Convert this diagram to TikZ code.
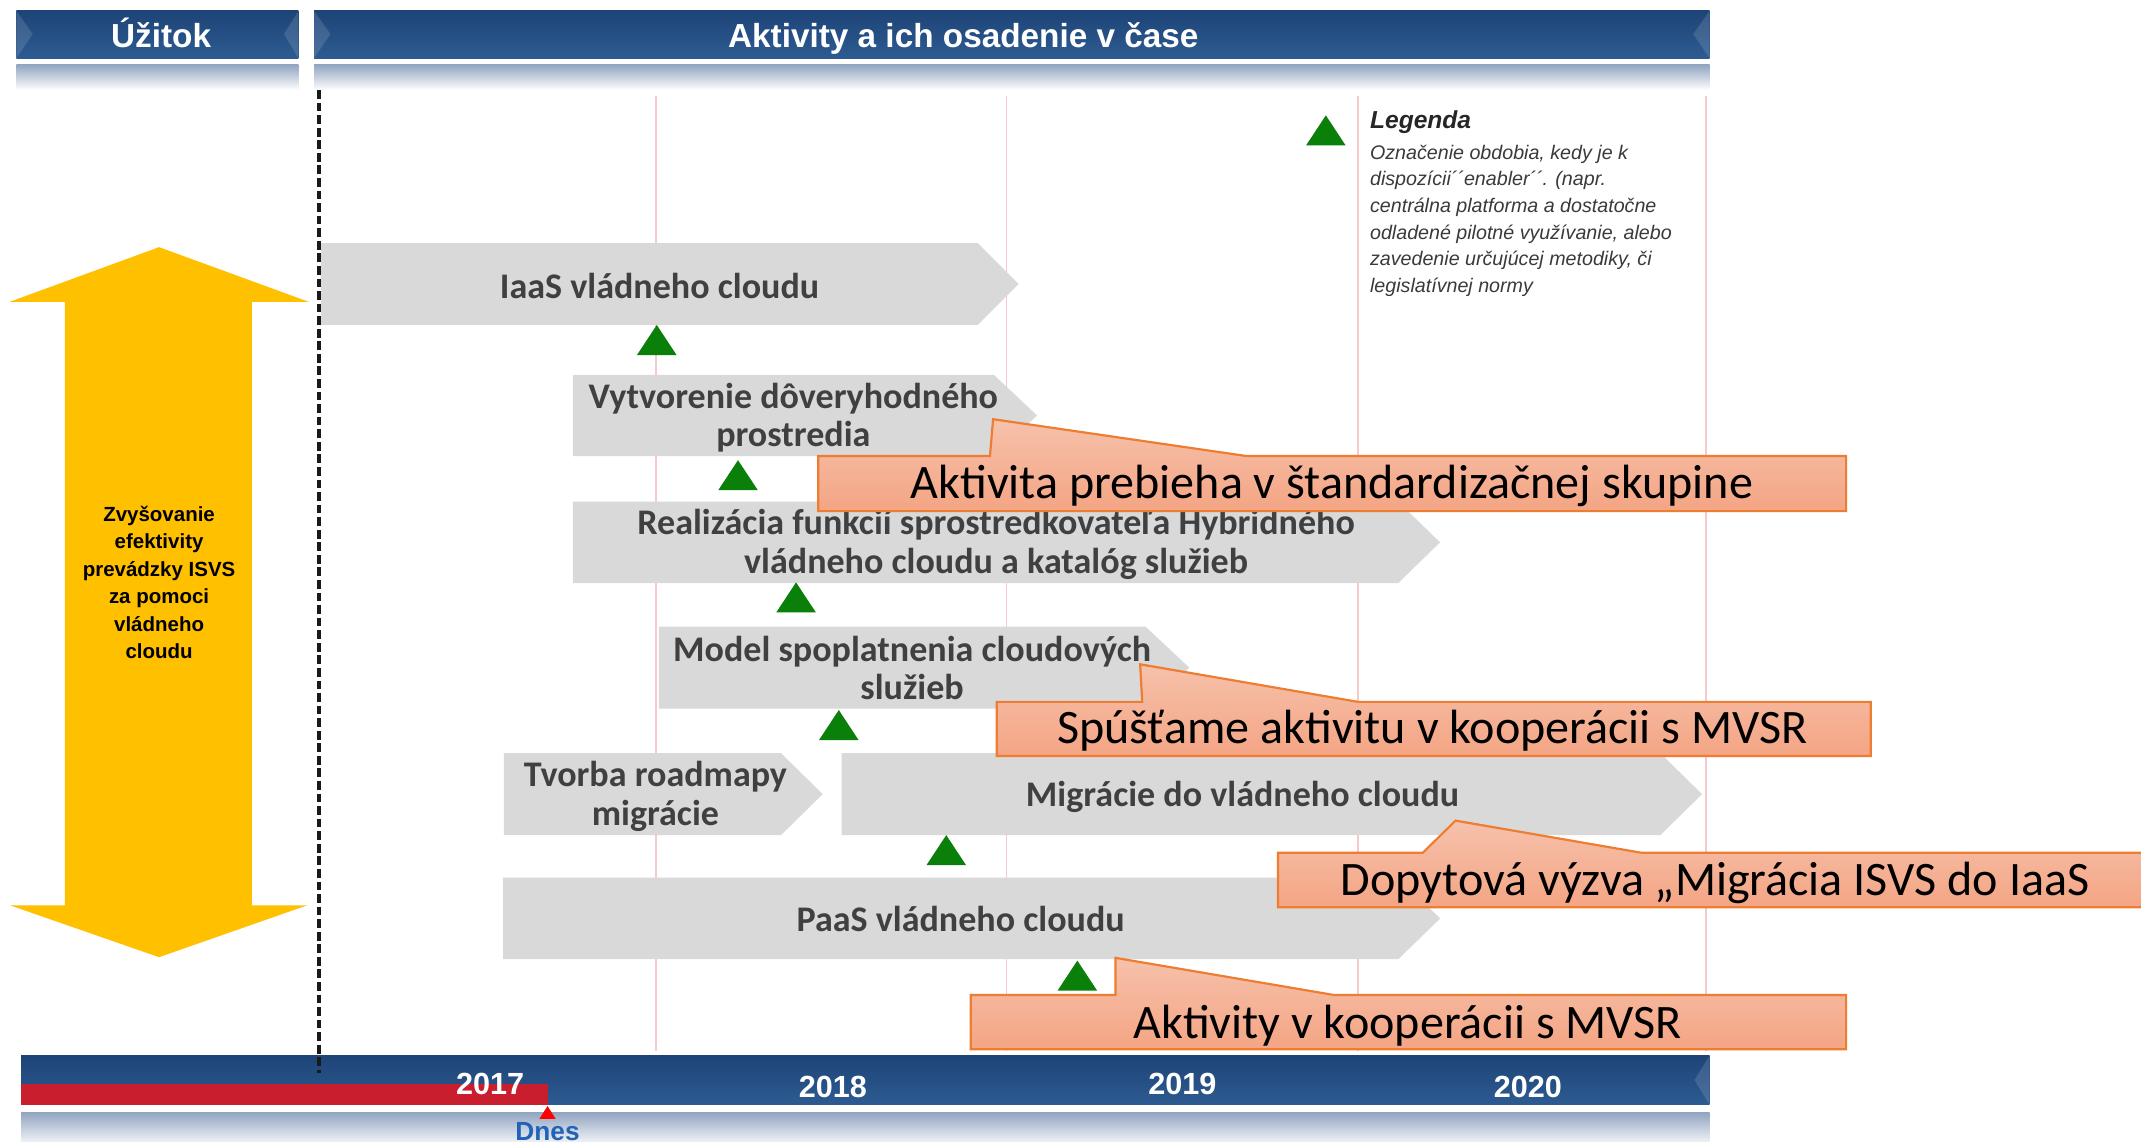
\documentclass[tikz,border=0pt]{standalone}
\usepackage{fontspec}
\setmainfont{Liberation Sans}
\newfontfamily\calibri{Carlito}
\definecolor{hdrtop}{HTML}{1E4477}
\definecolor{hdrbot}{HTML}{2D5B91}
\definecolor{bandtop}{HTML}{93A6C2}
\definecolor{boxgray}{HTML}{D9D9D9}
\definecolor{boxtext}{HTML}{404040}
\definecolor{trigreen}{HTML}{0A7F0A}
\definecolor{arrowyellow}{HTML}{FFC000}
\definecolor{pinkline}{HTML}{F6CACA}
\definecolor{calltop}{HTML}{F6C1AB}
\definecolor{callbot}{HTML}{F4A584}
\definecolor{callborder}{HTML}{ED7D31}
\definecolor{redbar}{HTML}{C81E2D}
\definecolor{dnesblue}{HTML}{2263B8}
\definecolor{legtext}{HTML}{3A3A3A}
\newcommand\chevronbox[5]{\fill[boxgray] (#1,#4) -- (#2,#4) -- (#3,{(#4+#5)/2}) -- (#2,#5) -- (#1,#5) -- cycle;}
\newcommand\greentri[2]{\fill[trigreen] (#1-14.5,#2+22) -- (#1,#2) -- (#1+14.5,#2+22) -- cycle;}
\newcommand\calloutshape[8]{\path[callshape] (#1,#3) -- (#5,#3) -- (#6,#7) -- (#8,#3) -- (#2,#3) -- (#2,#4) -- (#1,#4) -- cycle;}
\begin{document}
\begin{tikzpicture}[x=0.5pt,y=-0.5pt,
  hdrtext/.style={text=white, font=\bfseries\fontsize{12.2}{14}\selectfont, inner sep=0pt, anchor=base},
  yeartext/.style={text=white, font=\bfseries\fontsize{11.2}{13}\selectfont, inner sep=0pt, anchor=base},
  boxlabel/.style={text=boxtext, font=\calibri\bfseries\fontsize{13.2}{14}\selectfont, inner sep=0pt, anchor=base},
  calltext/.style={text=black, font=\calibri\fontsize{17.6}{20}\selectfont, inner sep=0pt, anchor=base},
  callshape/.style={draw=callborder, line width=0.8pt, top color=calltop, bottom color=callbot},
  bevel/.style={fill=white, fill opacity=0.13},
  band/.style={top color=bandtop, bottom color=white},
  bluebar/.style={top color=hdrtop, bottom color=hdrbot},
  gridline/.style={draw=pinkline, line width=0.6pt}]
\useasboundingbox (0,0) rectangle (1568,836);
\fill[white] (0,0) rectangle (1568,836);

% year grid lines
\draw[gridline] (480.3,70) -- (480.3,770);
\draw[gridline] (737,70) -- (737,770);
\draw[gridline] (994.6,70) -- (994.6,770);
\draw[gridline] (1249.5,70) -- (1249.5,770);

% header bars
\shade[bluebar] (12,8) rectangle (218.5,42.5);
\shade[bluebar] (230,8) rectangle (1252,42.5);
\fill[bevel] (12,8) -- (24,25) -- (12,42.5) -- cycle;
\fill[bevel] (218.5,8) -- (208,25) -- (218.5,42.5) -- cycle;
\fill[bevel] (230,8) -- (242,25) -- (230,42.5) -- cycle;
\fill[bevel] (1252,8) -- (1240,25) -- (1252,42.5) -- cycle;
\shade[band] (12,47.5) rectangle (218.5,66);
\shade[band] (230,47.5) rectangle (1252,66);
\node[hdrtext] (uzitok) at (118,35) {Úžitok};
\node[hdrtext] (aktivity) at (705.5,35) {Aktivity a ich osadenie v čase};

% yellow double arrow
\fill[arrowyellow] (116.5,181) -- (226,221) -- (184.5,221) -- (184.5,663) -- (225,663) -- (116.5,701)
  -- (7.3,663) -- (47.6,663) -- (47.6,221) -- (7.3,221) -- cycle;
\node[inner sep=0pt, anchor=base, font=\bfseries\fontsize{7.5}{10.1}\selectfont] (benefit) at (116.5,381.6)
  {\begin{tabular}[t]{@{}c@{}}Zvyšovanie\\efektivity\\prevádzky ISVS\\za pomoci\\vládneho\\cloudu\end{tabular}};

% legend
\greentri{971}{84.5}
\node[inner sep=0pt, anchor=base west, text=black!85, font=\bfseries\itshape\fontsize{9}{11}\selectfont] (legtitle) at (1003,94) {Legenda};
\node[inner sep=0pt, anchor=base west, text=legtext, font=\itshape\fontsize{7.2}{9.75}\selectfont] (legbody) at (1003,116.7)
  {\begin{tabular}[t]{@{}l@{}}Označenie obdobia, kedy je k\\dispozícii´´enabler´´. (napr.\\centrálna platforma a dostatočne\\odladené pilotné využívanie, alebo\\zavedenie určujúcej metodiky, či\\legislatívnej normy\end{tabular}};

% activity chevrons
\chevronbox{235}{716}{746}{178}{238}
\chevronbox{419.6}{728}{759.5}{274.6}{334}
\chevronbox{419.6}{1024}{1054.6}{367.4}{427}
\chevronbox{482.6}{839}{871}{459}{519}
\chevronbox{369}{572}{602.5}{551.6}{611.6}
\chevronbox{616.4}{1216}{1246.5}{551.6}{611.6}
\chevronbox{368.4}{1024}{1054.7}{642.8}{702.5}

\node[boxlabel] (iaas) at (483,218.5) {IaaS vládneho cloudu};
\node[boxlabel] (trust) at (581,298.8) {\begin{tabular}[t]{@{}c@{}}Vytvorenie dôveryhodného\\prostredia\end{tabular}};
\node[boxlabel] (broker) at (729.5,391.8) {\begin{tabular}[t]{@{}c@{}}Realizácia funkcií sprostredkovateľa Hybridného\\vládneho cloudu a katalóg služieb\end{tabular}};
\node[boxlabel] (pricing) at (668,484.6) {\begin{tabular}[t]{@{}c@{}}Model spoplatnenia cloudových\\služieb\end{tabular}};
\node[boxlabel] (roadmap) at (480,576.2) {\begin{tabular}[t]{@{}c@{}}Tvorba roadmapy\\migrácie\end{tabular}};
\node[boxlabel] (migration) at (910,590.8) {Migrácie do vládneho cloudu};
\node[boxlabel] (paas) at (703.5,682.4) {PaaS vládneho cloudu};

% enabler triangles
\greentri{481}{238}
\greentri{540.5}{337}
\greentri{583}{426.5}
\greentri{614.3}{520}
\greentri{693}{611.6}
\greentri{789}{703.5}

% callouts
\calloutshape{599.2}{1352}{334}{374.3}{725}{727.3}{307}{913}
\node[calltext] (call1) at (975.5,364.8) {Aktivita prebieha v štandardizačnej skupine};
\calloutshape{730}{1370}{514}{553.6}{836.5}{835}{486.5}{994.5}
\node[calltext] (call2) at (1049,544.4) {Spúšťame aktivitu v kooperácii s MVSR};
\calloutshape{936}{1580}{624.5}{664.4}{1042}{1066}{601}{1202}
\node[calltext] (call3) at (1256,655.5) {Dopytová výzva „Migrácia ISVS do IaaS};
\calloutshape{711}{1352}{728.7}{768.4}{817}{817}{701.5}{977}
\node[calltext] (call4) at (1031,760.4) {Aktivity v kooperácii s MVSR};

% timeline
\shade[bluebar] (15.4,773) rectangle (1252,809);
\fill[bevel] (1252,773) -- (1241,791) -- (1252,809) -- cycle;
\fill[redbar] (15.4,794) rectangle (401,809);
\shade[band] (15.4,815) rectangle (1252,840);
\fill[red] (395,819.5) -- (401,810) -- (407,819.5) -- cycle;
\node[yeartext] (y2017) at (359,801.2) {2017};
\node[yeartext] (y2018) at (610,803.7) {2018};
\node[yeartext] (y2019) at (866,801.2) {2019};
\node[yeartext] (y2020) at (1119,803.7) {2020};
\node[inner sep=0pt, anchor=base, text=dnesblue, font=\bfseries\fontsize{9.6}{11}\selectfont] (dnes) at (401,835) {Dnes};

% today divider
\draw[black!90, line width=1.5pt, dash pattern=on 3.2pt off 1.4pt] (233.5,66) -- (233.5,786);
\end{tikzpicture}
\end{document}
